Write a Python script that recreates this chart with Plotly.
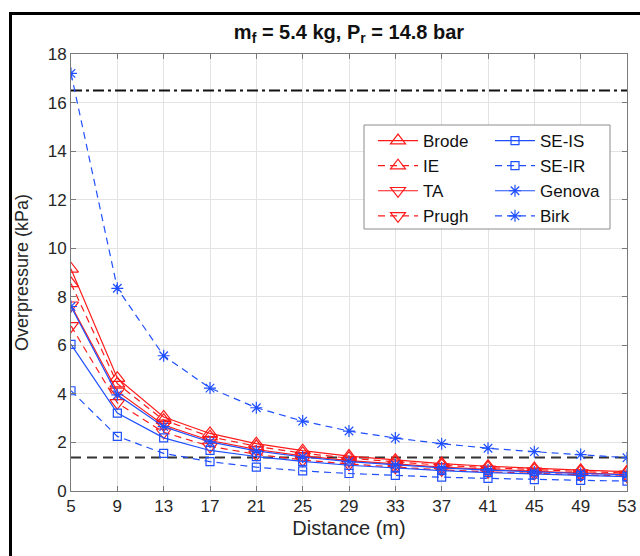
import plotly.graph_objects as go

# ---------------- data ----------------
distance = [5, 9, 13, 17, 21, 25, 29, 33, 37, 41, 45, 49, 53]

brode  = [9.15, 4.65, 3.05, 2.37, 1.95, 1.66, 1.44, 1.27, 1.13, 1.02, 0.93, 0.86, 0.80]
ie     = [8.55, 4.42, 2.92, 2.24, 1.84, 1.56, 1.35, 1.19, 1.06, 0.96, 0.87, 0.80, 0.74]
ta     = [7.65, 4.10, 2.72, 2.08, 1.71, 1.45, 1.25, 1.10, 0.98, 0.89, 0.81, 0.74, 0.69]
prugh  = [6.80, 3.63, 2.42, 1.84, 1.51, 1.28, 1.11, 0.98, 0.87, 0.79, 0.72, 0.66, 0.61]
se_is  = [6.04, 3.21, 2.19, 1.67, 1.42, 1.22, 1.06, 0.94, 0.84, 0.76, 0.69, 0.64, 0.59]
se_ir  = [4.13, 2.25, 1.55, 1.21, 0.98, 0.83, 0.72, 0.64, 0.57, 0.52, 0.47, 0.44, 0.41]
genova = [7.60, 3.96, 2.65, 2.02, 1.65, 1.40, 1.21, 1.07, 0.95, 0.86, 0.78, 0.72, 0.67]
birk   = [17.2, 8.35, 5.57, 4.24, 3.43, 2.88, 2.47, 2.18, 1.95, 1.76, 1.62, 1.50, 1.37]

series_names = ["Brode", "IE", "TA", "Prugh", "SE-IS", "SE-IR", "Genova", "Birk"]
series_values = [brode, ie, ta, prugh, se_is, se_ir, genova, birk]

limit_high = 16.5
limit_low = 1.38

x_ticks = distance
y_ticks = [0, 2, 4, 6, 8, 10, 12, 14, 16, 18]

# ---------------- styles ----------------
RED = "#ff1a1a"
BLUE = "#1f4fff"
DASH = "7px,5px"
styles = {
    "Brode":  dict(color=RED,  dash="solid", symbol="triangle-up-open",   size=13, legend="legend"),
    "IE":     dict(color=RED,  dash=DASH,    symbol="triangle-up-open",   size=13, legend="legend"),
    "TA":     dict(color=RED,  dash="solid", symbol="triangle-down-open", size=13, legend="legend"),
    "Prugh":  dict(color=RED,  dash=DASH,    symbol="triangle-down-open", size=13, legend="legend"),
    "SE-IS":  dict(color=BLUE, dash="solid", symbol="square-open",        size=8,  legend="legend2"),
    "SE-IR":  dict(color=BLUE, dash=DASH,    symbol="square-open",        size=8,  legend="legend2"),
    "Genova": dict(color=BLUE, dash="solid", symbol="asterisk-open",      size=10, legend="legend2"),
    "Birk":   dict(color=BLUE, dash=DASH,    symbol="asterisk-open",      size=10, legend="legend2"),
}

FONT = "Liberation Sans, Arial, sans-serif"

fig = go.Figure()

# reference limits
fig.add_trace(go.Scatter(
    x=[distance[0], distance[-1]], y=[limit_high, limit_high], mode="lines",
    line=dict(color="#111111", width=2, dash="11px,4px,3px,4px"),
    showlegend=False, hoverinfo="skip"))
fig.add_trace(go.Scatter(
    x=[distance[0], distance[-1]], y=[limit_low, limit_low], mode="lines",
    line=dict(color="#333333", width=2.2, dash="10px,6px"),
    showlegend=False, hoverinfo="skip"))

for name, vals in zip(series_names, series_values):
    s = styles[name]
    fig.add_trace(go.Scatter(
        x=distance, y=vals, name=name, mode="lines+markers",
        line=dict(color=s["color"], width=1.2, dash=s["dash"]),
        marker=dict(symbol=s["symbol"], size=s["size"], color=s["color"],
                    line=dict(color=s["color"], width=1.2)),
        legend=s["legend"],
    ))

# plot-area geometry (px): x 71..627, y 54..491
W, H = 640, 556
L, R, T, B = 71, 13, 54, 65
pw, ph = W - L - R, H - T - B

def px_to_paper_x(px):
    return (px - L) / pw

def px_to_paper_y(py):
    return 1 - (py - T) / ph

shapes = [
    # outer figure frame (cut off at right/bottom like the reference)
    dict(type="rect", xref="paper", yref="paper",
         x0=px_to_paper_x(10.5), x1=px_to_paper_x(660),
         y0=px_to_paper_y(600), y1=px_to_paper_y(13.5),
         line=dict(color="black", width=3), fillcolor="rgba(0,0,0,0)", layer="above"),
    # legend box
    dict(type="rect", xref="paper", yref="paper",
         x0=px_to_paper_x(364), x1=px_to_paper_x(610),
         y0=px_to_paper_y(229), y1=px_to_paper_y(125),
         line=dict(color="#8c8c8c", width=1), fillcolor="white", layer="above"),
]

axis_common = dict(
    showline=True, linecolor="#7a7a7a", linewidth=1, mirror="ticks",
    ticks="inside", ticklen=5, tickcolor="#7a7a7a", tickwidth=1,
    showgrid=True, gridcolor="#e3e3e3", gridwidth=1,
    zeroline=False, tickfont=dict(family=FONT, size=17, color="#262626"),
)

fig.update_layout(
    width=W, height=H,
    margin=dict(l=L, r=R, t=T, b=B, autoexpand=False),
    paper_bgcolor="white", plot_bgcolor="white",
    font=dict(family=FONT, color="#262626"),
    title=dict(text="<b>m<sub>f</sub> = 5.4 kg, P<sub>r</sub> = 14.8 bar</b>",
               x=px_to_paper_x(349), xref="paper", xanchor="center",
               y=1 - 32 / H, yanchor="middle",
               font=dict(family=FONT, size=20, color="#111111")),
    xaxis=dict(range=[distance[0], distance[-1]], tickmode="array", tickvals=x_ticks,
               title=dict(text="Distance (m)", font=dict(family=FONT, size=20, color="#262626"),
                          standoff=5),
               **axis_common),
    yaxis=dict(range=[y_ticks[0], y_ticks[-1]], tickmode="array", tickvals=y_ticks,
               title=dict(text="Overpressure (kPa)", font=dict(family=FONT, size=18, color="#262626"),
                          standoff=14),
               **axis_common),
    legend=dict(x=px_to_paper_x(373), y=px_to_paper_y(123), xanchor="left", yanchor="top",
                bgcolor="rgba(0,0,0,0)", borderwidth=0,
                font=dict(family=FONT, size=17, color="#111111"), itemwidth=40,
                tracegroupgap=0),
    legend2=dict(x=px_to_paper_x(490), y=px_to_paper_y(123), xanchor="left", yanchor="top",
                 bgcolor="rgba(0,0,0,0)", borderwidth=0,
                 font=dict(family=FONT, size=17, color="#111111"), itemwidth=40,
                 tracegroupgap=0),
    shapes=shapes,
    showlegend=True,
)

fig.write_html("out.html")
